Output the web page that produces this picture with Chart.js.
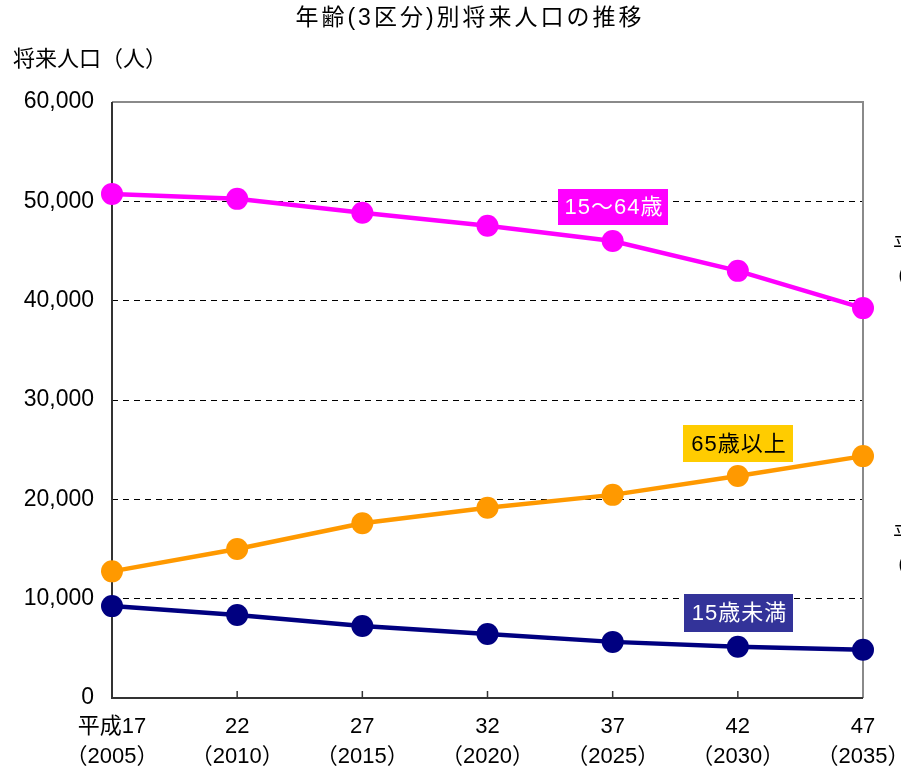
<!DOCTYPE html>
<html>
<head>
<meta charset="utf-8">
<script src="https://cdn.jsdelivr.net/npm/chart.js@4.4.1/dist/chart.umd.min.js"></script>
<style>
  html, body { margin: 0; padding: 0; background: #fff; }
  #wrap { width: 901px; height: 773px; position: relative; }
</style>
</head>
<body>
<div id="wrap"><canvas id="c" width="901" height="773"></canvas></div>
<script>
// 年齢(3区分)別将来人口の推移
var eraLabels  = [ '平成17', '22', '27', '32', '37', '42', '47' ];
var yearLabels = [ '（2005）', '（2010）', '（2015）', '（2020）', '（2025）', '（2030）', '（2035）' ];

var working = [ 50750, 50250, 48850, 47550, 46000, 43000, 39250 ];   // 15～64歳
var elderly = [ 12750, 15000, 17600, 19150, 20450, 22350, 24350 ];   // 65歳以上
var young   = [ 9250, 8350, 7250, 6450, 5650, 5150, 4850 ];          // 15歳未満

var seriesNames = [ '15～64歳', '65歳以上', '15歳未満' ];

var CJK  = "'Noto Sans CJK JP', 'Noto Sans', sans-serif";
var MIX  = "'Liberation Sans', 'Noto Sans CJK JP', sans-serif";

( function () {
	'use strict';

	// Titles, tick marks, frame and the series name boxes.
	var decor = {
		id: 'decor',
		beforeDatasetsDraw: function ( chart ) {
			var ctx = chart.ctx;
			var a = chart.chartArea;
			var x = chart.scales.x;
			ctx.save();
			// top + right border (grey)
			ctx.strokeStyle = '#8a8a8a';
			ctx.lineWidth = 2;
			ctx.beginPath();
			ctx.moveTo( a.left, a.top );
			ctx.lineTo( a.right, a.top );
			ctx.lineTo( a.right, a.bottom );
			ctx.stroke();
			// left + bottom axis (dark)
			ctx.strokeStyle = '#333';
			ctx.beginPath();
			ctx.moveTo( a.left, a.top );
			ctx.lineTo( a.left, a.bottom );
			ctx.lineTo( a.right, a.bottom );
			ctx.stroke();
			// inward tick marks
			ctx.lineWidth = 1.5;
			for ( var i = 1; i < eraLabels.length - 1; i++ ) {
				var px = x.getPixelForValue( i );
				ctx.beginPath();
				ctx.moveTo( px, a.bottom );
				ctx.lineTo( px, a.bottom - 7 );
				ctx.stroke();
			}
			ctx.restore();
		},
		afterDraw: function ( chart ) {
			var ctx = chart.ctx;
			ctx.save();
			ctx.fillStyle = '#000';
			ctx.textBaseline = 'middle';
			ctx.textAlign = 'center';
			ctx.font = '23px ' + MIX;
			ctx.letterSpacing = '3px';
			ctx.fillText( '年齢(3区分)別将来人口の推移', 470, 19 );
			ctx.textAlign = 'left';
			ctx.letterSpacing = '0px';
			ctx.font = '22px ' + CJK;
			ctx.fillText( '将来人口（人）', 13, 58 );

			// cut-off notes at the right edge
			ctx.font = '21px ' + CJK;
			ctx.fillText( '平成', 893, 244 );
			ctx.fillText( '（', 885, 276 );
			ctx.fillText( '平成', 893, 533 );
			ctx.fillText( '（', 885, 565 );

			// series name boxes
			var boxes = [
				{ text: seriesNames[ 0 ], x: 558, y: 189, w: 110, h: 36, bg: '#ff00ff', fg: '#fff' },
				{ text: seriesNames[ 1 ], x: 683, y: 425, w: 110, h: 37, bg: '#ffcc00', fg: '#000' },
				{ text: seriesNames[ 2 ], x: 684, y: 594, w: 109, h: 38, bg: '#333399', fg: '#fff' },
			];
			ctx.textAlign = 'center';
			ctx.font = '22px ' + MIX;
			ctx.letterSpacing = '1px';
			boxes.forEach( function ( b ) {
				ctx.fillStyle = b.bg;
				ctx.fillRect( b.x, b.y, b.w, b.h );
				ctx.fillStyle = b.fg;
				ctx.fillText( b.text, b.x + b.w / 2 + 1, b.y + b.h / 2 + 1 );
			} );
			ctx.restore();
		},
	};

	function lineSet( label, data, colour ) {
		return {
			label:            label,
			data:             data,
			borderColor:      colour,
			backgroundColor:  colour,
			borderWidth:      4.5,
			pointRadius:      11,
			pointBorderWidth: 0,
			tension:          0,
			clip:             false,
		};
	}

	new Chart( document.getElementById( 'c' ), {
		type: 'line',
		data: {
			labels: eraLabels.map( function ( e, i ) { return [ e, yearLabels[ i ] ]; } ),
			datasets: [
				lineSet( seriesNames[ 0 ], working, '#ff00ff' ),
				lineSet( seriesNames[ 1 ], elderly, '#ff9900' ),
				lineSet( seriesNames[ 2 ], young,   '#000080' ),
			],
		},
		options: {
			responsive: false,
			animation: false,
			events: [],
			layout: { padding: { top: 102, right: 38, left: 0, bottom: 0 } },
			plugins: {
				legend:  { display: false },
				tooltip: { enabled: false },
			},
			scales: {
				x: {
					offset: false,
					border: { display: false },
					grid:   { display: false },
					ticks: {
						color: '#000',
						maxRotation: 0,
						autoSkip: false,
						padding: 6,
						font: { family: MIX, size: 22, lineHeight: 1.36 },
					},
					afterFit: function ( s ) {
						s.height = 75;
						s.paddingLeft = 0;
						s.paddingRight = 0;
					},
				},
				y: {
					min: 0,
					max: 60000,
					border: { display: false, dash: [ 6, 5 ] },
					grid: {
						drawTicks: false,
						color: function ( c ) {
							var v = c.tick.value;
							return ( v === 0 || v === 60000 ) ? 'rgba(0,0,0,0)' : '#000';
						},
						lineWidth: 1,
					},
					ticks: {
						stepSize: 10000,
						color: '#000',
						padding: 18,
						font: { family: "'Liberation Sans', sans-serif", size: 23 },
						callback: function ( v ) { return v.toLocaleString( 'en-US' ); },
					},
					afterFit: function ( s ) { s.width = 112; },
				},
			},
		},
		plugins: [ decor ],
	} );
} )();
</script>
</body>
</html>
